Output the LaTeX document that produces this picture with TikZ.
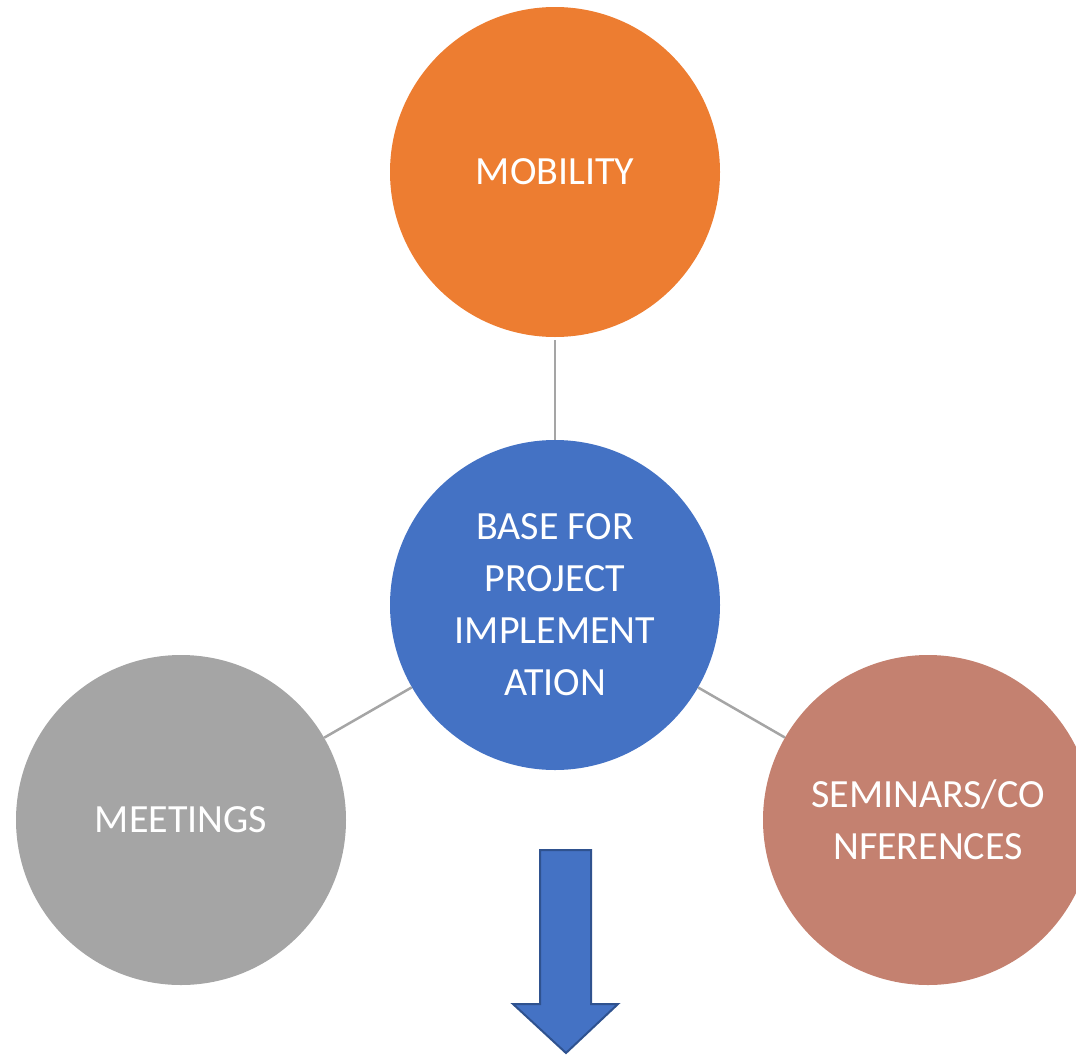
\documentclass[tikz,border=0pt]{standalone}
\usepackage{fontspec}
\setmainfont{Carlito}
\definecolor{cOrange}{HTML}{ED7D31}
\definecolor{cBlue}{HTML}{4472C4}
\definecolor{cGray}{HTML}{A5A5A5}
\definecolor{cRose}{HTML}{C48170}
\definecolor{cLine}{HTML}{A5A5A5}
\definecolor{cEdge}{HTML}{2F528F}
\begin{document}
\begin{tikzpicture}[x=1pt,y=-1pt,
  bubble/.style={circle,minimum size=330pt,inner sep=0pt,text=white,align=center,
    font=\fontsize{40}{52}\selectfont},
  link/.style={draw=cLine,line width=2.5pt}]
\useasboundingbox (0,0) rectangle (1076,1055);
\clip (0,0) rectangle (1076,1055);
\node[bubble,fill=cOrange] (mob) at (555,172) {MOBILITY};
\node[bubble,fill=cBlue] (base) at (555,605) {BASE FOR\\PROJECT\\IMPLEMENT\\ATION};
\node[bubble,fill=cGray] (meet) at (181,820) {MEETINGS};
\node[bubble,fill=cRose] (sem) at (928,820) {SEMINARS/CO\\NFERENCES};
\draw[link,shorten <=3pt] (mob) -- (base);
\draw[link] (base) -- (meet);
\draw[link] (base) -- (sem);
\draw[fill=cBlue,draw=cEdge,line width=2pt,line join=miter]
  (540,850) -- (591,850) -- (591,1004) -- (618,1004) -- (566,1053) -- (513,1004) -- (540,1004) -- cycle;
\end{tikzpicture}
\end{document}
